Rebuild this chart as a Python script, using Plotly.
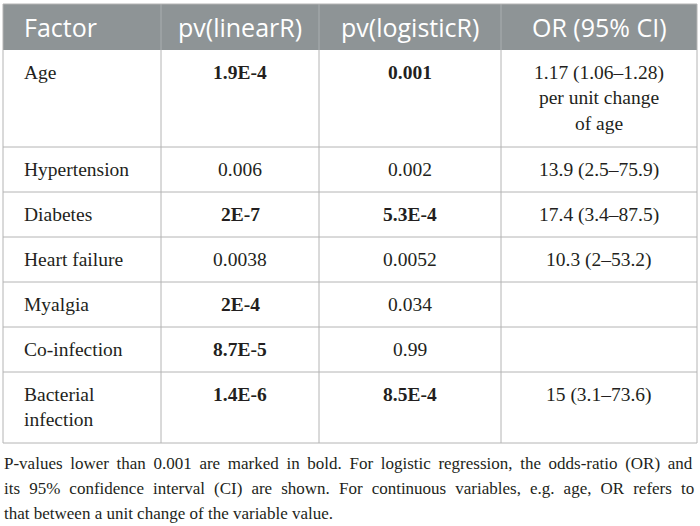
import plotly.graph_objects as go

# ---- data ----
headers = ["Factor", "pv(linearR)", "pv(logisticR)", "OR (95% CI)"]
factors = ["Age", "Hypertension", "Diabetes", "Heart failure", "Myalgia",
           "Co-infection", "Bacterial<br>infection"]
pv_linear = ["1.9E-4", "0.006", "2E-7", "0.0038", "2E-4", "8.7E-5", "1.4E-6"]
pv_linear_bold = [True, False, True, False, True, True, True]
pv_logistic = ["0.001", "0.002", "5.3E-4", "0.0052", "0.034", "0.99", "8.5E-4"]
pv_logistic_bold = [True, False, True, False, False, False, True]
or_ci = ["1.17 (1.06–1.28)<br>per unit change<br>of age", "13.9 (2.5–75.9)",
         "17.4 (3.4–87.5)", "10.3 (2–53.2)", "", "", "15 (3.1–73.6)"]
caption_lines = [
    "P-values lower than 0.001 are marked in bold. For logistic regression, the odds-ratio (OR) and",
    "its 95% confidence interval (CI) are shown. For continuous variables, e.g. age, OR refers to",
    "that between a unit change of the variable value.",
]

# ---- layout constants (pixels) ----
W, H = 700, 526
col_edges = [3, 161, 319, 501, 697]
col_align = ["left", "center", "center", "center"]
TABLE_TOP, HEADER_H = 4, 46
ROW_H, EXTRA_LINE_H = 45, 26
TEXT_PAD_X, TEXT_PAD_Y = 19, 10
HEADER_FILL = "#8e9496"
HEADER_SEP = "#a9aeb0"
GRID = "#b4b4b4"
TEXT = "#231f20"
SERIF = "Liberation Serif"
SANS = "Open Sans"
BODY_SIZE, HEAD_SIZE, CAP_SIZE = 19.5, 25, 17
CAPTION_Y0, CAPTION_DY = 463, 25
# extra inter-word spacing to imitate the justified caption (last line ragged)
caption_gap_fill = ["\u2009", "\u2009\u200a", ""]


def boldify(vals, flags):
    return [f"<b>{v}</b>" if f else v for v, f in zip(vals, flags)]


columns = [factors, boldify(pv_linear, pv_linear_bold),
           boldify(pv_logistic, pv_logistic_bold), or_ci]
n_rows = len(factors)
n_lines = [max(c[i].count("<br>") + 1 for c in columns) for i in range(n_rows)]
row_edges = [TABLE_TOP + HEADER_H]
for nl in n_lines:
    row_edges.append(row_edges[-1] + ROW_H + EXTRA_LINE_H * (nl - 1))
table_bottom = row_edges[-1]


def text_x(j):
    if col_align[j] == "left":
        return col_edges[j] + TEXT_PAD_X, "left"
    return (col_edges[j] + col_edges[j + 1]) / 2, "center"


fig = go.Figure()
# invisible trace so the axes exist
fig.add_trace(go.Scatter(x=[0, W], y=[0, H], mode="markers",
                         marker=dict(opacity=0), hoverinfo="skip",
                         showlegend=False))

shapes = []
# header background
shapes.append(dict(type="rect", x0=col_edges[0], x1=col_edges[-1],
                   y0=TABLE_TOP, y1=TABLE_TOP + HEADER_H,
                   fillcolor=HEADER_FILL, line=dict(width=0), layer="below"))
# header separators
for x in col_edges[1:-1]:
    shapes.append(dict(type="line", x0=x, x1=x, y0=TABLE_TOP,
                       y1=TABLE_TOP + HEADER_H,
                       line=dict(color=HEADER_SEP, width=1)))
# vertical lines
for x in col_edges:
    outer = x in (col_edges[0], col_edges[-1])
    shapes.append(dict(type="line", x0=x, x1=x,
                       y0=TABLE_TOP if outer else TABLE_TOP + HEADER_H,
                       y1=table_bottom, line=dict(color=GRID, width=1)))
# horizontal lines
for y in [TABLE_TOP] + row_edges[1:]:
    shapes.append(dict(type="line", x0=col_edges[0], x1=col_edges[-1],
                       y0=y, y1=y, line=dict(color=GRID, width=1)))

annotations = []
for j, h in enumerate(headers):
    x, anchor = text_x(j)
    annotations.append(dict(x=x, y=TABLE_TOP + HEADER_H / 2, text=h,
                            xanchor=anchor, yanchor="middle", showarrow=False,
                            font=dict(family=SANS, size=HEAD_SIZE, color="white")))
for j, col in enumerate(columns):
    x, anchor = text_x(j)
    for i, val in enumerate(col):
        if not val:
            continue
        annotations.append(dict(x=x, y=row_edges[i] + TEXT_PAD_Y, text=val,
                                xanchor=anchor, yanchor="top", align=anchor,
                                showarrow=False,
                                font=dict(family=SERIF, size=BODY_SIZE, color=TEXT)))
for k, line in enumerate(caption_lines):
    txt = (" " + caption_gap_fill[k]).join(line.split(" "))
    annotations.append(dict(x=col_edges[0] - 1, y=CAPTION_Y0 + k * CAPTION_DY,
                            text=txt, xanchor="left", yanchor="middle",
                            align="left", showarrow=False,
                            font=dict(family=SERIF, size=CAP_SIZE, color=TEXT)))

fig.update_layout(
    width=W, height=H, margin=dict(l=0, r=0, t=0, b=0, pad=0),
    paper_bgcolor="white", plot_bgcolor="white",
    shapes=shapes, annotations=annotations, showlegend=False,
    xaxis=dict(range=[0, W], visible=False, fixedrange=True),
    yaxis=dict(range=[H, 0], visible=False, fixedrange=True),
)
fig.write_html("out.html", config={"displayModeBar": False},
               post_script="document.body.style.margin='0';")
